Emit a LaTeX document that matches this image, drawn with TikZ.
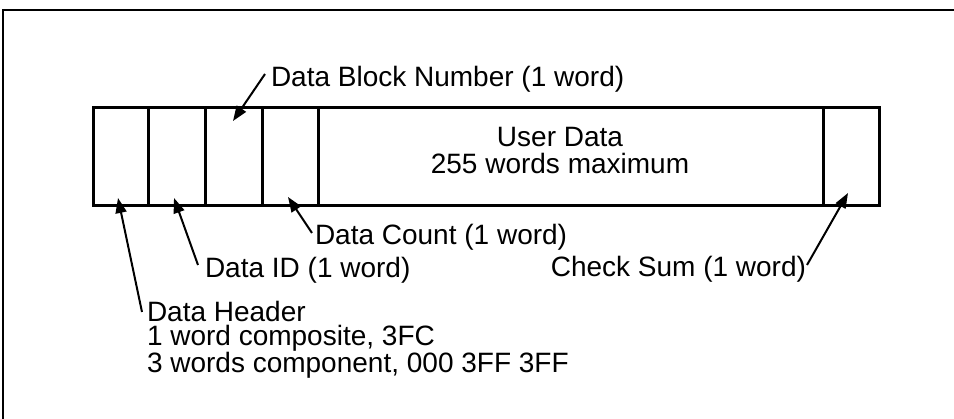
\documentclass[tikz,border=0pt]{standalone}
\usepackage{fontspec}
\setmainfont{Liberation Sans}
\usetikzlibrary{arrows.meta}
\begin{document}
\begin{tikzpicture}[x=1pt,y=-1pt,
  lbl/.style={inner sep=0pt,outer sep=0pt,anchor=base west,font=\fontsize{28}{27}\selectfont},
  cellbox/.style={line width=3pt,line join=miter},
  ptr/.style={line width=2pt,-{Triangle[length=15pt,width=11pt]}},
  frame/.style={line width=2pt}]
\fill[white] (0,0) rectangle (954,419);
\useasboundingbox (0,0) rectangle (954,419);
% frame
\draw[frame] (3,419) -- (3,10) -- (954,10);
% record box
\draw[cellbox] (93,108) rectangle (879,206);
\foreach \xx in {148,205,262,318,823} \draw[cellbox] (\xx,108) -- (\xx,206);
% texts
\node[lbl] (blk) at (271,87) {Data Block Number (1 word)};
\node[lbl,align=center,anchor=base,font=\fontsize{28}{27}\selectfont] (user) at (560,174) {User Data\\255 words maximum};
\node[lbl] (cnt) at (315,245) {Data Count (1 word)};
\node[lbl] (did) at (205,278) {Data ID (1 word)};
\node[lbl,anchor=base east] (chk) at (806,277) {Check Sum (1 word)};
\node[lbl,align=left,font=\fontsize{28}{24}\selectfont] (hdr) at (147,373) {Data Header\\1 word composite, 3FC\\3 words component, 000 3FF 3FF};
% arrow ends
\coordinate (blkS) at (265,74);   \coordinate (blkT) at (233,121);
\coordinate (hdrS) at (142,312);  \coordinate (hdrT) at (118,198);
\coordinate (didS) at (198,265);  \coordinate (didT) at (174,198);
\coordinate (cntS) at (312,233);  \coordinate (cntT) at (288,197);
\coordinate (chkS) at (807,265);  \coordinate (chkT) at (848,193);
\draw[ptr] (blkS) -- (blkT);
\draw[ptr] (hdrS) -- (hdrT);
\draw[ptr] (didS) -- (didT);
\draw[ptr] (cntS) -- (cntT);
\draw[ptr] (chkS) -- (chkT);
\end{tikzpicture}
\end{document}
